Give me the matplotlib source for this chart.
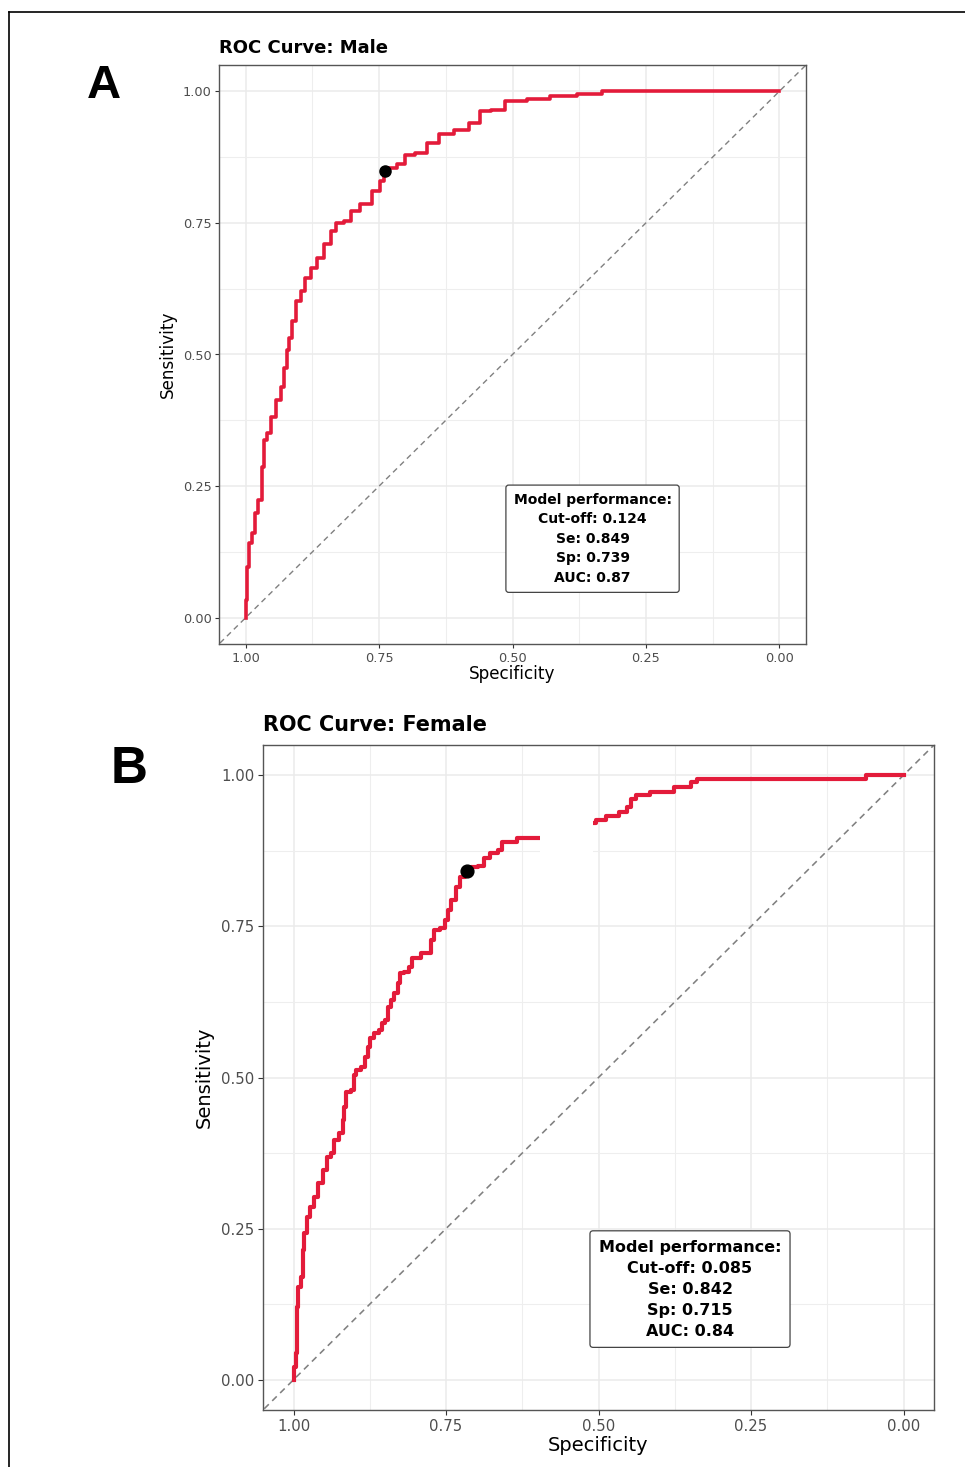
import matplotlib
matplotlib.use('Agg')
import matplotlib.pyplot as plt
from matplotlib.lines import Line2D
from matplotlib.patches import Rectangle

# ROC curve: (specificity, sensitivity)
male_spec = [1.000, 0.998, 0.996, 0.993, 0.985, 0.981, 0.972, 0.968, 0.963, 0.957,
             0.948, 0.938, 0.931, 0.925, 0.921, 0.918, 0.910, 0.901, 0.893, 0.884,
             0.873, 0.860, 0.845, 0.837, 0.826, 0.807, 0.798, 0.772, 0.753, 0.744,
             0.739, 0.729, 0.705, 0.697, 0.667, 0.654, 0.622, 0.598, 0.566, 0.557,
             0.523, 0.505, 0.439, 0.421, 0.336, 0.327, 0.000]
male_sens = [0.000, 0.034, 0.097, 0.142, 0.161, 0.199, 0.223, 0.286, 0.337, 0.350,
             0.381, 0.413, 0.438, 0.475, 0.508, 0.532, 0.564, 0.602, 0.621, 0.646,
             0.665, 0.684, 0.710, 0.735, 0.750, 0.754, 0.773, 0.786, 0.811, 0.830,
             0.849, 0.854, 0.862, 0.879, 0.883, 0.902, 0.919, 0.926, 0.939, 0.962,
             0.964, 0.981, 0.985, 0.992, 0.994, 1.000, 1.000]

female_spec = [1.000, 0.998, 0.994, 0.994, 0.991, 0.986, 0.984, 0.980, 0.975, 0.970,
               0.964, 0.956, 0.948, 0.943, 0.935, 0.931, 0.920, 0.919, 0.916, 0.911,
               0.902, 0.900, 0.894, 0.886, 0.881, 0.875, 0.873, 0.864, 0.856, 0.853,
               0.846, 0.843, 0.837, 0.832, 0.826, 0.824, 0.813, 0.807, 0.804, 0.794,
               0.788, 0.777, 0.772, 0.766, 0.754, 0.750, 0.745, 0.737, 0.729, 0.724,
               0.715, 0.704, 0.691, 0.685, 0.670, 0.660, 0.657, 0.636, 0.632, 0.595,
               0.570, 0.540, 0.508, 0.500, 0.475, 0.458, 0.449, 0.443, 0.433, 0.399,
               0.353, 0.343, 0.333, 0.064, 0.060, 0.000]
female_sens = [0.000, 0.021, 0.045, 0.121, 0.154, 0.170, 0.215, 0.243, 0.269, 0.286,
               0.302, 0.326, 0.347, 0.369, 0.375, 0.397, 0.408, 0.430, 0.451, 0.476,
               0.479, 0.504, 0.512, 0.517, 0.534, 0.550, 0.565, 0.574, 0.579, 0.590,
               0.595, 0.617, 0.628, 0.640, 0.656, 0.673, 0.674, 0.683, 0.698, 0.698,
               0.706, 0.706, 0.727, 0.744, 0.747, 0.760, 0.777, 0.793, 0.815, 0.831,
               0.842, 0.848, 0.850, 0.863, 0.871, 0.876, 0.889, 0.889, 0.896, 0.896,
               0.902, 0.910, 0.921, 0.926, 0.932, 0.939, 0.947, 0.960, 0.967, 0.972,
               0.980, 0.988, 0.993, 0.993, 1.000, 1.000]

male_info = ['Model performance:', 'Cut-off: 0.124', 'Se: 0.849', 'Sp: 0.739', 'AUC: 0.87']
female_info = ['Model performance:', 'Cut-off: 0.085', 'Se: 0.842', 'Sp: 0.715', 'AUC: 0.84']
male_cut = (0.739, 0.849)
female_cut = (0.715, 0.842)

ticks = [0.00, 0.25, 0.50, 0.75, 1.00]
minor_ticks = [0.125, 0.375, 0.625, 0.875]
tick_labels = ['0.00', '0.25', '0.50', '0.75', '1.00']

RED = '#E31B3A'


def draw_roc(ax, spec, sens, cut, info, title, s, xlab_y, ylab_x):
    ax.set_xlim(1.05, -0.05)
    ax.set_ylim(-0.05, 1.05)
    ax.set_xticks(ticks)
    ax.set_xticklabels(tick_labels)
    ax.set_yticks(ticks)
    ax.set_yticklabels(tick_labels)
    ax.set_xticks(minor_ticks, minor=True)
    ax.set_yticks(minor_ticks, minor=True)
    ax.grid(True, which='major', color='#EBEBEB', lw=1.1)
    ax.grid(True, which='minor', color='#EEEEEE', lw=0.8)
    ax.set_axisbelow(True)
    ax.tick_params(which='major', length=2.9 * s, width=0.8, color='#333333',
                   labelsize=9.3 * s, labelcolor='#4D4D4D', pad=2.5 * s)
    ax.tick_params(which='minor', length=0)
    for sp in ax.spines.values():
        sp.set_color('#555555')
        sp.set_linewidth(1.0)

    # diagonal reference line
    ax.plot([1.1, -0.1], [-0.1, 1.1], ls=(0, (4, 3)), color='#808080', lw=1.0 * s)
    ax.plot(spec, sens, color=RED, lw=2.6 * s, drawstyle='steps-mid')
    ax.plot(cut[0], cut[1], 'o', color='black', ms=8 * s)

    ax.text(0.35, 0.15, '\n'.join(info), ha='center', va='center',
            multialignment='center', fontsize=10 * s, fontweight='bold',
            linespacing=1.5,
            bbox=dict(boxstyle='round,pad=0.55,rounding_size=0.2',
                      fc='white', ec='#444444', lw=0.9))

    ax.set_title(title, loc='left', fontweight='bold', fontsize=13 * s,
                 pad=8.6 * s)
    ax.set_xlabel('Specificity', fontsize=12.1 * s, va='center')
    ax.set_ylabel('Sensitivity', fontsize=12.1 * s, va='center')
    ax.xaxis.set_label_coords(0.5, xlab_y)
    ax.yaxis.set_label_coords(ylab_x, 0.5)


fig = plt.figure(figsize=(9.65, 14.67), dpi=100)
W, H = 965, 1467

ax1 = fig.add_axes([219 / W, 1 - 644 / H, 587 / W, 579 / H])
draw_roc(ax1, male_spec, male_sens, male_cut, male_info, 'ROC Curve: Male',
         1.0, -0.052, -0.087)

ax2 = fig.add_axes([263 / W, 1 - 1410 / H, 671 / W, 665 / H])
draw_roc(ax2, female_spec, female_sens, female_cut, female_info,
         'ROC Curve: Female', 1.15, -0.053, -0.088)
# blank patch over part of the female curve, as in the source image
ax2.add_patch(Rectangle((0.5098, 0.83), 0.0866, 0.13, fc='white', ec='none',
                        zorder=5))

# panel letters
fig.text(104 / W, 1 - 98 / H, 'A', fontsize=34, fontweight='bold',
         family='Liberation Sans', ha='center', va='baseline')
fig.text(129 / W, 1 - 783 / H, 'B', fontsize=37, fontweight='bold',
         family='Liberation Sans', ha='center', va='baseline')

# outer frame (top and left edges visible)
fig.add_artist(Line2D([9 / W, 1.0], [1 - 12 / H, 1 - 12 / H],
                      transform=fig.transFigure, color='black', lw=1.2))
fig.add_artist(Line2D([9 / W, 9 / W], [0.0, 1 - 12 / H],
                      transform=fig.transFigure, color='black', lw=1.2))

fig.savefig('out.png', dpi=100)
